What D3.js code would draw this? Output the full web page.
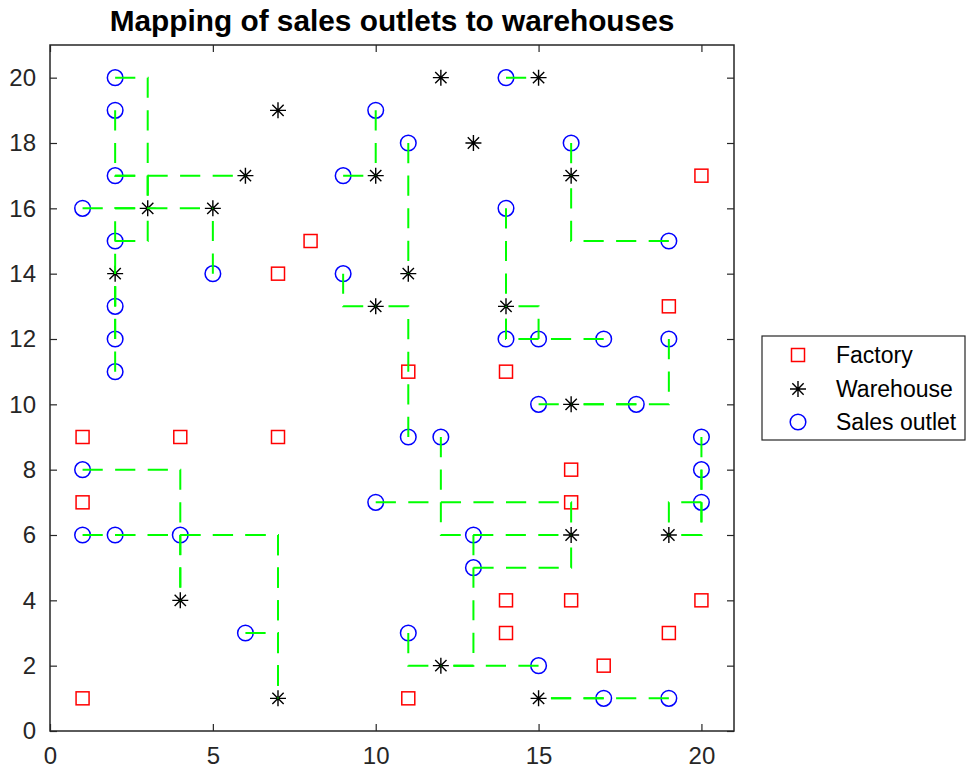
<!DOCTYPE html>
<html>
<head>
<meta charset="utf-8">
<script src="https://cdn.jsdelivr.net/npm/d3@7"></script>
<style>
  html, body { margin: 0; padding: 0; background: #ffffff; }
  svg { display: block; font-family: "Liberation Sans", Arial, Helvetica, sans-serif; }
</style>
</head>
<body>
<svg id="chart" width="966" height="773"></svg>
<script>
// ---------- data ----------
const title = "Mapping of sales outlets to warehouses";
const legendLabels = ["Factory", "Warehouse", "Sales outlet"];
const xTicks = [0, 5, 10, 15, 20];
const yTicks = [0, 2, 4, 6, 8, 10, 12, 14, 16, 18, 20];

const factoryX = [1, 4, 7, 1, 1, 7, 8, 11, 14, 19, 20, 16, 16, 14, 16, 20, 14, 19, 17, 11];
const factoryY = [9, 9, 9, 7, 1, 14, 15, 11, 11, 13, 17, 8, 7, 4, 4, 4, 3, 3, 2, 1];

const warehouseX = [3, 5, 6, 7, 2, 12, 15, 13, 10, 16, 11, 10, 14, 16, 16, 19, 4, 7, 12, 15];
const warehouseY = [16, 16, 17, 19, 14, 20, 20, 18, 17, 17, 14, 13, 13, 10, 6, 6, 4, 1, 2, 1];

const outletX = [2, 2, 2, 1, 2, 5, 2, 2, 2, 1, 1, 2, 4, 6, 10, 9, 11, 9, 14, 16,
                 14, 19, 14, 15, 17, 19, 15, 18, 11, 12, 20, 20, 10, 20, 13, 13, 11, 15, 17, 19];
const outletY = [20, 19, 17, 16, 15, 14, 13, 12, 11, 8, 6, 6, 6, 3, 19, 17, 18, 14, 20, 18,
                 16, 15, 12, 12, 12, 12, 10, 10, 9, 9, 9, 8, 7, 7, 6, 5, 3, 2, 1, 1];
// warehouse index serving each outlet
const outletWarehouse = [0, 2, 0, 0, 0, 1, 4, 4, 1, 16, 17, 17, 16, 17, 8, 8, 10, 11, 6, 9,
                         12, 9, 12, 12, 12, 13, 13, 13, 11, 14, 15, 15, 14, 15, 18, 14, 18, 18, 19, 19];
// which direction the route takes first from the outlet
const routeFirst = ["x", "y", "x", "x", "x", "y", "y", "y", "y", "x", "x", "x", "y", "x", "y", "x", "y", "y", "x", "y",
                    "y", "x", "y", "y", "x", "y", "x", "x", "y", "y", "y", "y", "x", "x", "y", "x", "y", "x", "x", "x"];

// ---------- layout ----------
const svg = d3.select("#chart");
const plot = { left: 50, top: 45, right: 734, bottom: 731 };
const x = d3.scaleLinear().domain([0, 21]).range([plot.left, plot.right]);
const y = d3.scaleLinear().domain([0, 21]).range([plot.bottom, plot.top]);
const axisColor = "#262626";

// axes box & ticks (MATLAB style: ticks inward, box on)
const tickLen = 7;
const g = svg.append("g");
const xAxisB = d3.axisBottom(x).tickValues(xTicks).tickSizeInner(-tickLen).tickSizeOuter(0).tickPadding(16);
const xAxisT = d3.axisTop(x).tickValues(xTicks).tickSizeInner(-tickLen).tickSizeOuter(0).tickFormat("");
const yAxisL = d3.axisLeft(y).tickValues(yTicks).tickSizeInner(-tickLen).tickSizeOuter(0).tickPadding(14);
const yAxisR = d3.axisRight(y).tickValues(yTicks).tickSizeInner(-tickLen).tickSizeOuter(0).tickFormat("");

function styleAxis(sel) {
  sel.selectAll(".domain").remove();
  sel.selectAll(".tick line").attr("stroke", axisColor).attr("stroke-width", 1.2);
  sel.selectAll(".tick text").attr("fill", axisColor).style("font-size", "24px")
     .style("font-family", "'Liberation Sans', Arial, sans-serif");
}
g.append("g").attr("transform", `translate(0,${plot.bottom})`).call(xAxisB).call(styleAxis);
g.append("g").attr("transform", `translate(0,${plot.top})`).call(xAxisT).call(styleAxis);
g.append("g").attr("transform", `translate(${plot.left},0)`).call(yAxisL).call(styleAxis);
g.append("g").attr("transform", `translate(${plot.right},0)`).call(yAxisR).call(styleAxis);

g.append("rect")
  .attr("x", plot.left).attr("y", plot.top)
  .attr("width", plot.right - plot.left).attr("height", plot.bottom - plot.top)
  .attr("fill", "none").attr("stroke", axisColor).attr("stroke-width", 1.5);

// title
svg.append("text")
  .attr("x", (plot.left + plot.right) / 2).attr("y", 31)
  .attr("text-anchor", "middle")
  .style("font-size", "29.8px").style("font-weight", "bold").attr("fill", "#000")
  .text(title);

// ---------- markers ----------
const sq = 13, rad = 7.8, star = 8;
function drawSquare(sel) {
  sel.append("rect").attr("x", -sq / 2).attr("y", -sq / 2).attr("width", sq).attr("height", sq)
     .attr("fill", "none").attr("stroke", "#ff0000").attr("stroke-width", 1.5);
}
function drawStar(sel) {
  const d = star * Math.SQRT1_2;
  sel.append("path")
     .attr("d", `M${-star},0L${star},0M0,${-star}L0,${star}M${-d},${-d}L${d},${d}M${-d},${d}L${d},${-d}`)
     .attr("stroke", "#000").attr("stroke-width", 1.4).attr("fill", "none");
}
function drawCircle(sel) {
  sel.append("circle").attr("r", rad).attr("fill", "none")
     .attr("stroke", "#0000ff").attr("stroke-width", 1.5);
}

const marks = svg.append("g");
marks.selectAll("g.factory").data(d3.range(factoryX.length)).join("g")
  .attr("class", "factory")
  .attr("transform", i => `translate(${x(factoryX[i])},${y(factoryY[i])})`)
  .call(drawSquare);
marks.selectAll("g.warehouse").data(d3.range(warehouseX.length)).join("g")
  .attr("class", "warehouse")
  .attr("transform", i => `translate(${x(warehouseX[i])},${y(warehouseY[i])})`)
  .call(drawStar);
marks.selectAll("g.outlet").data(d3.range(outletX.length)).join("g")
  .attr("class", "outlet")
  .attr("transform", i => `translate(${x(outletX[i])},${y(outletY[i])})`)
  .call(drawCircle);

// ---------- routes (outlet -> warehouse, L-shaped) ----------
const line = d3.line().x(p => x(p[0])).y(p => y(p[1]));
const routes = d3.range(outletX.length).map(i => {
  const ox = outletX[i], oy = outletY[i];
  const wx = warehouseX[outletWarehouse[i]], wy = warehouseY[outletWarehouse[i]];
  return routeFirst[i] === "x"
    ? [[ox, oy], [wx, oy], [wx, wy]]
    : [[ox, oy], [ox, wy], [wx, wy]];
});
const unit = x(1) - x(0);
svg.append("g").selectAll("path").data(routes).join("path")
  .attr("d", line)
  .attr("fill", "none").attr("stroke", "#00ff00").attr("stroke-width", 2)
  .attr("stroke-dasharray", `${(unit * 0.62).toFixed(2)},${(unit * 0.38).toFixed(2)}`);

// ---------- legend ----------
const leg = svg.append("g");
leg.append("rect").attr("x", 762).attr("y", 336).attr("width", 203).attr("height", 104)
  .attr("fill", "#fff").attr("stroke", axisColor).attr("stroke-width", 1.2);
const drawers = [drawSquare, drawStar, drawCircle];
const rowY = [355, 389, 422];
legendLabels.forEach((lab, i) => {
  const r = leg.append("g").attr("transform", `translate(798,${rowY[i]})`);
  r.call(drawers[i]);
  leg.append("text").attr("x", 836).attr("y", rowY[i]).attr("dy", "0.35em")
    .style("font-size", "23px").attr("fill", "#000").text(lab);
});
</script>
</body>
</html>
